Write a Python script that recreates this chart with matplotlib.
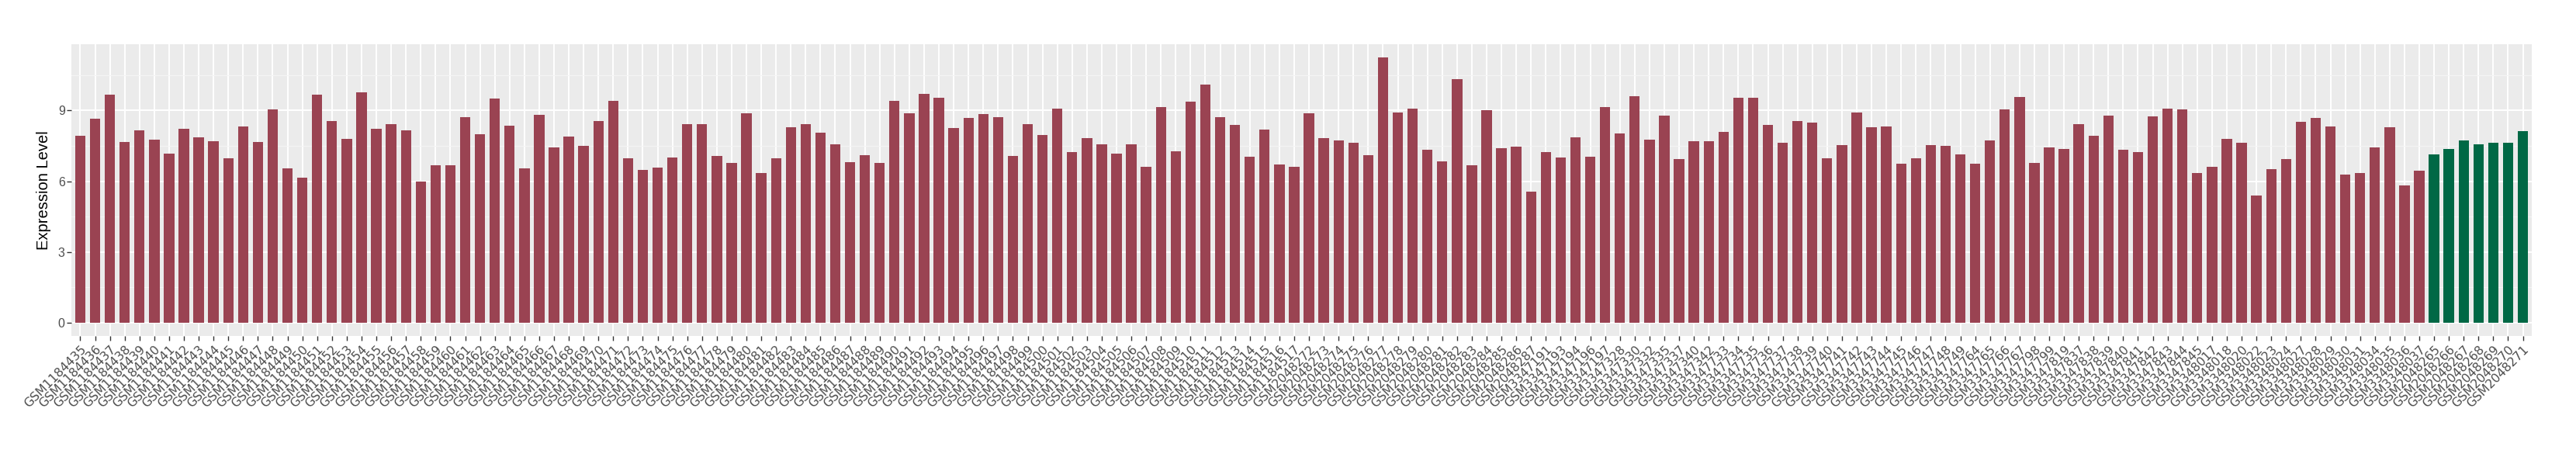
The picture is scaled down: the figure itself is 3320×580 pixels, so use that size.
import matplotlib
matplotlib.use("Agg")
import matplotlib.pyplot as plt
from matplotlib.ticker import MultipleLocator

# ---------------- data ----------------
samples_a = ["GSM1184%03d" % k for k in range(435, 518)]
samples_b = ["GSM2048%03d" % k for k in range(272, 288)]
samples_c = ["GSM3347%s" % s for s in [
    "191", "193", "194", "196", "197", "328", "330", "332", "335", "337", "340", "342",
    "733", "734", "735", "736", "737", "738", "739", "740", "741", "742", "743", "744",
    "745", "746", "747", "748", "749", "764", "765", "766", "767", "798", "799", "819",
    "837", "838", "839", "840", "841", "842", "843", "844", "845"]]
samples_d = ["GSM3348%s" % s for s in [
    "017", "018", "020", "022", "023", "024", "027", "028", "029", "030", "031", "034",
    "035", "036", "037"]]
samples_e = ["GSM2048%03d" % k for k in range(265, 272)]
samples = samples_a + samples_b + samples_c + samples_d + samples_e

values_a = [7.93, 8.65, 9.67, 7.66, 8.16, 7.76, 7.18, 8.22, 7.86, 7.70,
            6.97, 8.32, 7.66, 9.05, 6.55, 6.16, 9.67, 8.55, 7.80, 9.77,
            8.22, 8.42, 8.16, 5.99, 6.68, 6.68, 8.72, 7.99, 9.51, 8.36,
            6.55, 8.82, 7.43, 7.90, 7.51, 8.55, 9.42, 6.97, 6.48, 6.58,
            7.01, 8.42, 8.42, 7.08, 6.78, 8.88, 6.35, 6.97, 8.30, 8.42,
            8.07, 7.57, 6.81, 7.10, 6.78, 9.42, 8.88, 9.71, 9.54, 8.26,
            8.69, 8.86, 8.72, 7.08, 8.42, 7.97, 9.09, 7.24, 7.83, 7.57,
            7.18, 7.57, 6.62, 9.15, 7.27, 9.38, 10.10, 8.72, 8.39, 7.04,
            8.20, 6.72, 6.62]
values_b = [8.88, 7.83, 7.74, 7.64, 7.10, 11.25, 8.92, 9.09, 7.34, 6.85,
            10.33, 6.68, 9.01, 7.41, 7.47, 5.56]
values_c = [7.24, 7.01, 7.86, 7.04, 9.15, 8.03, 9.61, 7.76, 8.78, 6.95,
            7.70, 7.70, 8.09, 9.54, 9.54, 8.39, 7.64, 8.55, 8.49, 6.97,
            7.53, 8.92, 8.30, 8.32, 6.75, 6.97, 7.53, 7.51, 7.14, 6.75,
            7.74, 9.05, 9.57, 6.78, 7.43, 7.37, 8.42, 7.93, 8.78, 7.34,
            7.24, 8.75, 9.09, 9.05, 6.35]
values_d = [6.62, 7.80, 7.64, 5.40, 6.52, 6.95, 8.53, 8.69, 8.32, 6.29,
            6.35, 7.43, 8.30, 5.83, 6.45]
values_e = [7.14, 7.37, 7.74, 7.57, 7.64, 7.64, 8.13]
values = values_a + values_b + values_c + values_d + values_e

groups = ["Tumor"] * (len(samples) - len(samples_e)) + ["Normal"] * len(samples_e)
group_colors = {"Tumor": "#9A4352", "Normal": "#006845"}

yticks = [0, 3, 6, 9]
ylabel = "Expression Level"

# ---------------- figure ----------------
W, H, DPI = 3320, 580, 100
fig = plt.figure(figsize=(W / DPI, H / DPI), dpi=DPI, facecolor="white")
ax = fig.add_axes([92 / W, 1 - 433 / H, (3263 - 92) / W, (433 - 57) / H])
ax.set_facecolor("#EBEBEB")

n = len(samples)
x = list(range(n))
ax.bar(x, values, width=0.7, color=[group_colors[g] for g in groups], zorder=3)

vmax = max(values)
ax.set_xlim(-0.6, n - 1 + 0.6)
ax.set_ylim(-0.05 * vmax, 1.05 * vmax)

ax.set_yticks(yticks)
ax.set_yticklabels([str(t) for t in yticks], fontsize=11.5, color="#4D4D4D",
                   family="Liberation Sans")
ax.yaxis.set_minor_locator(MultipleLocator(1.5))
ax.set_xticks(x)
ax.set_xticklabels(samples, rotation=45, ha="right", va="top",
                   rotation_mode="anchor", fontsize=11.3, color="#4D4D4D",
                   family="DejaVu Sans")
ax.tick_params(axis="both", which="major", length=4, width=1, color="#333333", pad=2)
ax.tick_params(axis="y", which="minor", length=0)
ax.tick_params(axis="x", which="major", pad=3)

ax.grid(which="major", color="white", linewidth=1.4, zorder=0)
ax.grid(which="minor", axis="y", color="#F5F5F5", linewidth=0.7, zorder=0)
ax.set_axisbelow(True)
for s in ax.spines.values():
    s.set_visible(False)

ax.set_ylabel(ylabel, fontsize=14.5, family="Liberation Sans", color="black", labelpad=6)

fig.savefig("out.png", dpi=DPI, facecolor="white")
